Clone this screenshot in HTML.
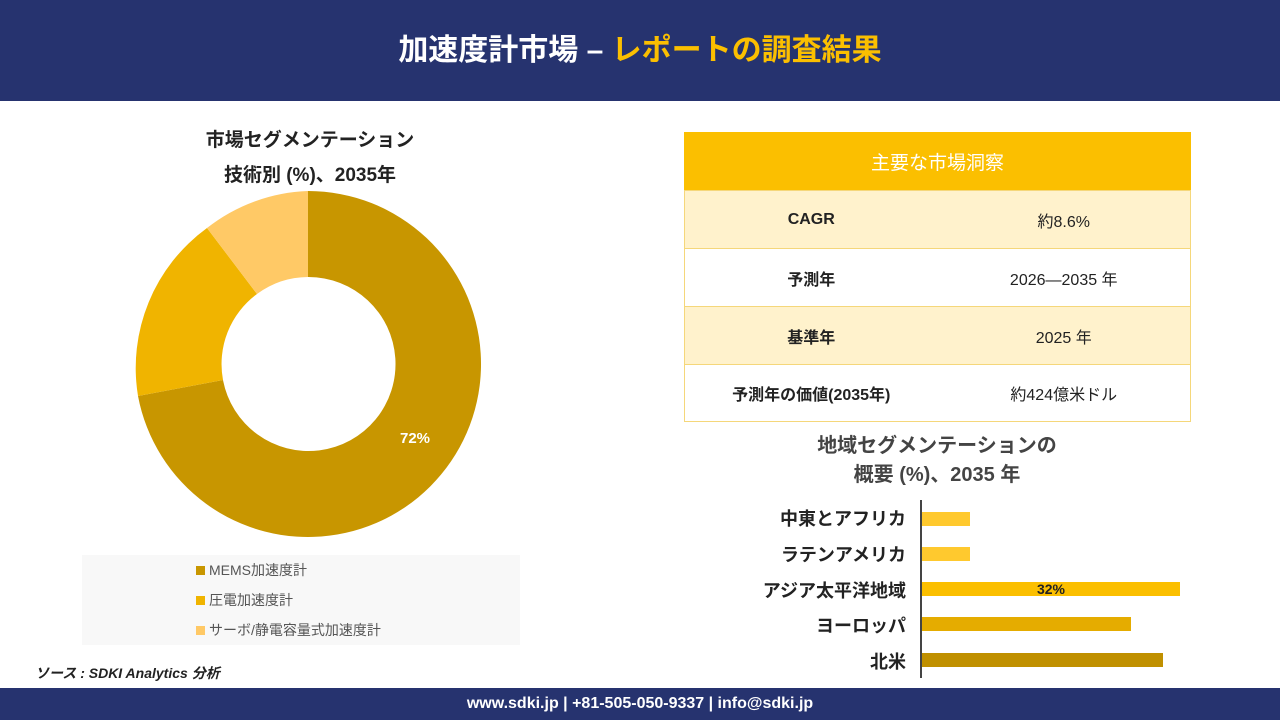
<!DOCTYPE html>
<html><head><meta charset="utf-8"><style>
body{margin:0;width:1280px;height:720px;position:relative;background:#fff;font-family:"Liberation Sans","Noto Sans CJK JP",sans-serif;overflow:hidden}
.a{position:absolute}
.hdr{left:0;top:0;width:1280px;height:101px;background:#26336f;color:#fff;font-size:30px;font-weight:bold;text-align:center;line-height:101px}
.ftr{left:0;top:688px;width:1280px;height:32px;background:#26336f;color:#fff;font-size:16px;font-weight:bold;text-align:center;line-height:32px}
.t{font-weight:bold;color:#222;text-align:center}
.row{position:absolute;left:684px;width:507px;height:57px;border:1px solid #f5d77a;box-sizing:border-box;font-size:16px;color:#222;display:flex;align-items:center}
.row div{width:50%;text-align:center}
.lg{font-size:14px;color:#555;position:absolute;left:196px}
.sq{display:inline-block;width:9px;height:9px;margin-right:4px}
.bl{position:absolute;right:374px;font-size:18px;font-weight:bold;color:#222;text-align:right}
.bar{position:absolute;left:922px;height:14px}
</style></head><body>
<div class="a hdr">加速度計市場 – <span style="color:#fbbf00">レポートの調査結果</span></div>
<div class="a t" style="left:110px;top:123px;width:400px;font-size:19px;line-height:35px">市場セグメンテーション<br>技術別 (%)、2035年</div>
<svg class="a" style="left:0;top:0" width="640" height="560">
<path d="M308 191 A173 173 0 1 1 138 396 L223 380 A87 87 0 1 0 308 277 Z" fill="#c89600"/>
<path d="M138 396 A173 173 0 0 1 207 228 L257 294 A87 87 0 0 0 223 380 Z" fill="#f0b400"/>
<path d="M207 228 A173 173 0 0 1 308 191 L308 277 A87 87 0 0 0 257 294 Z" fill="#ffc966"/>
<text x="415" y="443" fill="#fff" font-size="15" font-weight="bold" text-anchor="middle" font-family="Liberation Sans">72%</text>
</svg>
<div class="a" style="left:82px;top:555px;width:438px;height:90px;background:#f8f8f8"></div>
<div class="lg" style="top:560px"><span class="sq" style="background:#c89600"></span>MEMS加速度計</div>
<div class="lg" style="top:590px"><span class="sq" style="background:#f0b400"></span>圧電加速度計</div>
<div class="lg" style="top:620px"><span class="sq" style="background:#ffc966"></span>サーボ/静電容量式加速度計</div>
<div class="a" style="left:35px;top:663px;font-size:14px;font-style:italic;font-weight:bold;color:#222">ソース : SDKI Analytics 分析</div>
<div class="row" style="top:132px;height:59px;background:#fbbf00;color:#fff;font-size:19px;border-color:#fbbf00"><div style="width:100%">主要な市場洞察</div></div>
<div class="row" style="top:190px;height:59px;background:#fff2cc"><div><b>CAGR</b></div><div>約8.6%</div></div>
<div class="row" style="top:248px;height:59px"><div><b>予測年</b></div><div>2026—2035 年</div></div>
<div class="row" style="top:306px;height:59px;background:#fff2cc"><div><b>基準年</b></div><div>2025 年</div></div>
<div class="row" style="top:364px;height:58px"><div><b>予測年の価値(2035年)</b></div><div>約424億米ドル</div></div>
<div class="a t" style="left:737px;top:432px;width:400px;font-size:20px;line-height:29px;color:#444">地域セグメンテーションの<br>概要 (%)、2035 年</div>
<div class="a" style="left:920px;top:500px;width:2px;height:178px;background:#444"></div>
<div class="bl" style="top:505px">中東とアフリカ</div>
<div class="bl" style="top:541px">ラテンアメリカ</div>
<div class="bl" style="top:577px">アジア太平洋地域</div>
<div class="bl" style="top:612px">ヨーロッパ</div>
<div class="bl" style="top:648px">北米</div>
<div class="bar" style="top:512px;width:48px;background:#ffc92e"></div>
<div class="bar" style="top:547px;width:48px;background:#ffc92e"></div>
<div class="bar" style="top:582px;width:258px;background:#fbbf00;font-size:14px;font-weight:bold;line-height:14px;text-align:center;color:#222">32%</div>
<div class="bar" style="top:617px;width:209px;background:#e5ac00"></div>
<div class="bar" style="top:653px;width:241px;background:#c09000"></div>
<div class="a ftr">www.sdki.jp | +81-505-050-9337 | info@sdki.jp</div>
</body></html>
